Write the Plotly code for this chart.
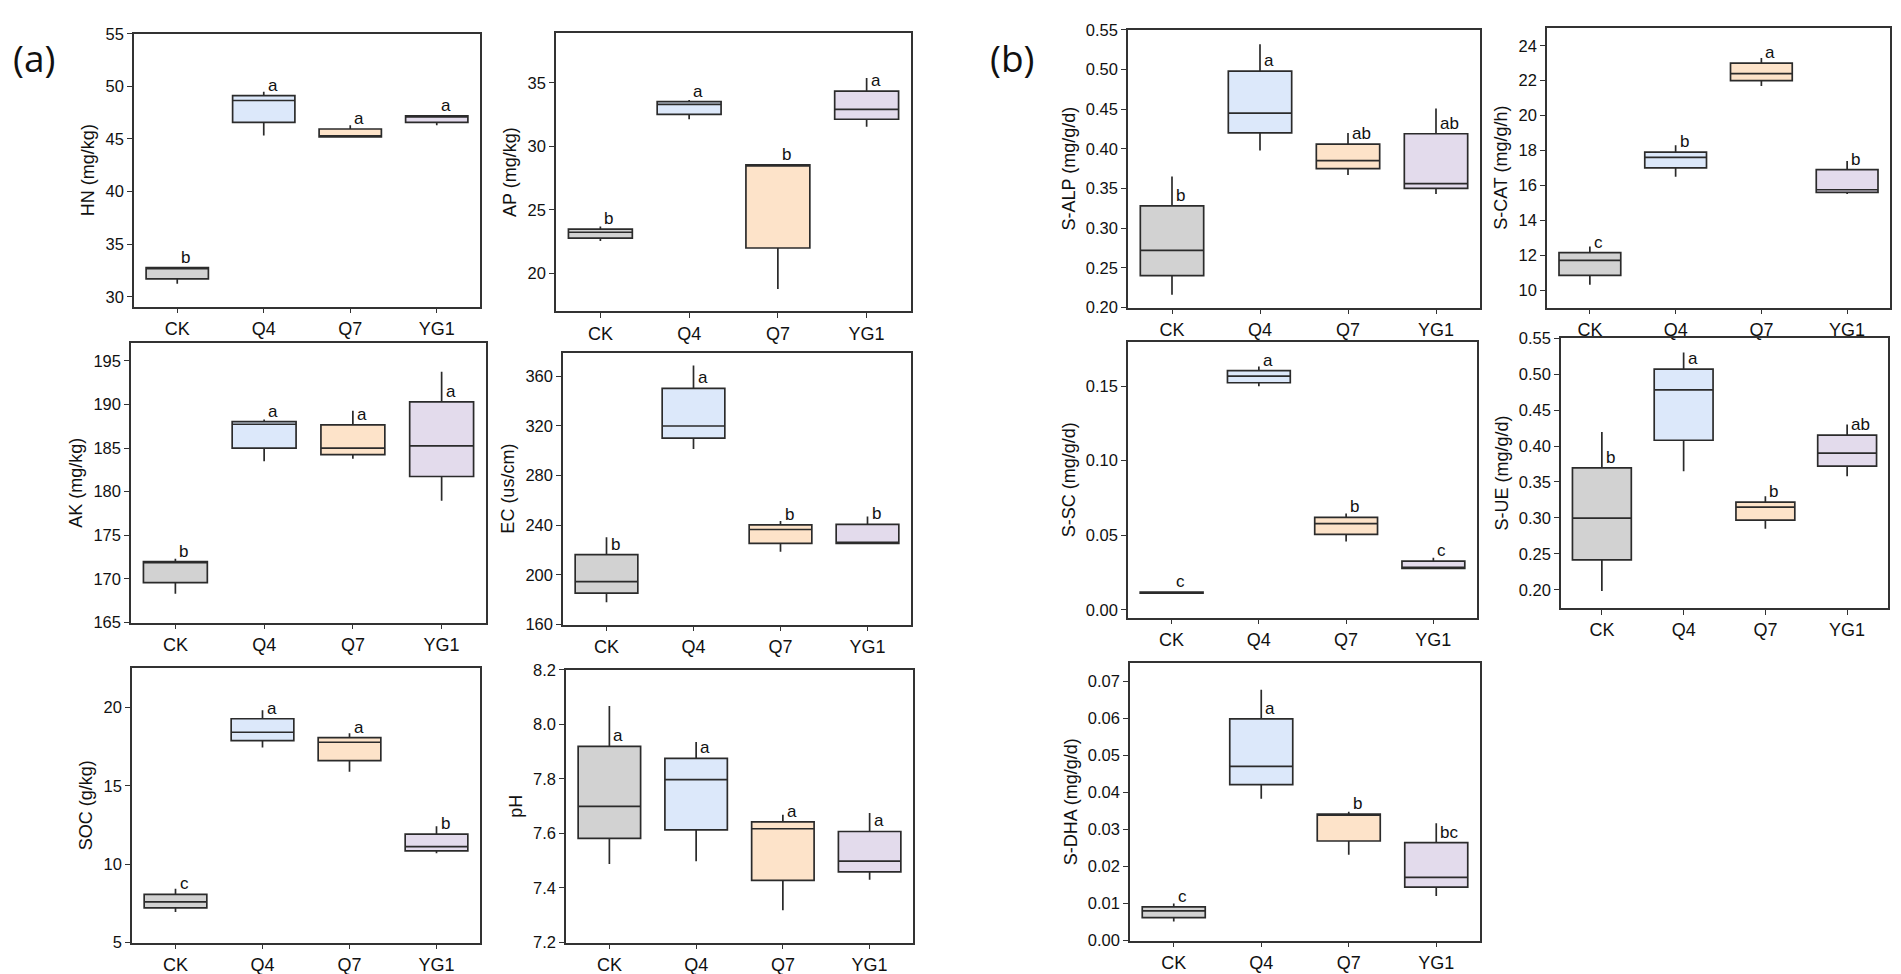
import plotly.graph_objects as go

groups = ["CK", "Q4", "Q7", "YG1"]
fills = ["#d2d2d2", "#dce8fa", "#fde3c9", "#e3dbec"]

# box statistics: lower whisker, q1, median, q3, upper whisker
hn_low = [31.24, 45.33, 45.20, 46.30]
hn_q1 = [31.71, 46.58, 45.20, 46.58]
hn_med = [32.77, 48.66, 45.20, 47.20]
hn_q3 = [32.77, 49.12, 45.95, 47.20]
hn_high = [32.77, 49.50, 46.30, 47.20]
hn_sig = ["b", "a", "a", "a"]

ap_low = [22.55, 32.14, 18.76, 31.55]
ap_q1 = [22.78, 32.53, 22.00, 32.14]
ap_med = [23.24, 33.32, 28.54, 32.92]
ap_q3 = [23.49, 33.53, 28.54, 34.36]
ap_high = [23.70, 33.66, 28.54, 35.39]
ap_sig = ["b", "a", "b", "a"]

ak_low = [168.3, 183.5, 183.76, 178.97]
ak_q1 = [169.57, 185.0, 184.25, 181.74]
ak_med = [171.97, 187.73, 185.0, 185.26]
ak_q3 = [171.97, 188.03, 187.66, 190.30]
ak_high = [172.3, 188.26, 189.27, 193.76]
ak_sig = ["b", "a", "a", "a"]

ec_low = [177.9, 301.4, 218.5, 225.4]
ec_q1 = [185.3, 310.1, 225.4, 225.4]
ec_med = [194.5, 319.9, 236.5, 225.4]
ec_q3 = [216.2, 350.2, 240.2, 240.7]
ec_high = [230.2, 368.7, 243.3, 247.0]
ec_sig = ["b", "a", "b", "b"]

soc_low = [6.94, 17.45, 15.91, 10.70]
soc_q1 = [7.21, 17.89, 16.62, 10.85]
soc_med = [7.59, 18.43, 17.79, 11.12]
soc_q3 = [8.07, 19.29, 18.08, 11.92]
soc_high = [8.43, 19.83, 18.37, 12.42]
soc_sig = ["c", "a", "a", "b"]

ph_low = [7.488, 7.498, 7.318, 7.430]
ph_q1 = [7.582, 7.613, 7.428, 7.459]
ph_med = [7.699, 7.797, 7.617, 7.498]
ph_q3 = [7.919, 7.875, 7.642, 7.607]
ph_high = [8.067, 7.935, 7.668, 7.675]
ph_sig = ["a", "a", "a", "a"]

alp_low = [0.216, 0.398, 0.367, 0.343]
alp_q1 = [0.240, 0.420, 0.375, 0.350]
alp_med = [0.272, 0.445, 0.385, 0.356]
alp_q3 = [0.328, 0.498, 0.406, 0.419]
alp_high = [0.365, 0.532, 0.420, 0.451]
alp_sig = ["b", "a", "ab", "ab"]

cat_low = [10.31, 16.5, 21.7, 15.5]
cat_q1 = [10.84, 17.0, 22.0, 15.6]
cat_med = [11.70, 17.6, 22.4, 15.75]
cat_q3 = [12.15, 17.9, 23.0, 16.9]
cat_high = [12.5, 18.3, 23.3, 17.4]
cat_sig = ["c", "b", "a", "b"]

sc_low = [0.0112, 0.1498, 0.0458, 0.0278]
sc_q1 = [0.0112, 0.1522, 0.0506, 0.0278]
sc_med = [0.0116, 0.1566, 0.0578, 0.0278]
sc_q3 = [0.0118, 0.1603, 0.0620, 0.0326]
sc_high = [0.0118, 0.1631, 0.0646, 0.0348]
sc_sig = ["c", "a", "b", "c"]

ue_low = [0.1985, 0.365, 0.285, 0.358]
ue_q1 = [0.2416, 0.408, 0.297, 0.372]
ue_med = [0.2997, 0.478, 0.315, 0.390]
ue_q3 = [0.3695, 0.507, 0.322, 0.415]
ue_high = [0.4194, 0.530, 0.330, 0.430]
ue_sig = ["b", "a", "b", "ab"]

dha_low = [0.00505, 0.03828, 0.02313, 0.01196]
dha_q1 = [0.00611, 0.04209, 0.02685, 0.01435]
dha_med = [0.00797, 0.04705, 0.03411, 0.01700]
dha_q3 = [0.00904, 0.05990, 0.03411, 0.02640]
dha_high = [0.00992, 0.06778, 0.03473, 0.03163]
dha_sig = ["c", "a", "b", "bc"]

# panel: title, stats, y range, dtick, tickformat, pixel box (x0, x1, y0, y1)
panels = [
    ("HN (mg/kg)", (hn_low, hn_q1, hn_med, hn_q3, hn_high, hn_sig), [29.07, 55.01], 5, "d", (126, 472, 17, 295)),
    ("AP (mg/kg)", (ap_low, ap_q1, ap_med, ap_q3, ap_high, ap_sig), [17.0, 38.96], 5, "d", (548, 903, 16, 300)),
    ("AK (mg/kg)", (ak_low, ak_q1, ak_med, ak_q3, ak_high, ak_sig), [164.99, 197.06], 5, "d", (123, 478, 332, 617)),
    ("EC (us/cm)", (ec_low, ec_q1, ec_med, ec_q3, ec_high, ec_sig), [159.9, 379.0], 40, "d", (555, 903, 342, 619)),
    ("SOC (g/kg)", (soc_low, soc_q1, soc_med, soc_q3, soc_high, soc_sig), [4.99, 22.55], 5, "d", (124, 472, 663, 943)),
    ("pH", (ph_low, ph_q1, ph_med, ph_q3, ph_high, ph_sig), [7.1995, 8.2005], 0.2, ".1f", (558, 905, 665, 943)),
    ("S-ALP (mg/g/d)", (alp_low, alp_q1, alp_med, alp_q3, alp_high, alp_sig), [0.1998, 0.5502], 0.05, ".2f", (1120, 1472, 13, 296)),
    ("S-CAT (mg/g/h)", (cat_low, cat_q1, cat_med, cat_q3, cat_high, cat_sig), [9.0, 25.03], 2, "d", (1539, 1882, 11, 296)),
    ("S-SC (mg/g/d)", (sc_low, sc_q1, sc_med, sc_q3, sc_high, sc_sig), [-0.0053, 0.1796], 0.05, ".2f", (1120, 1469, 331, 612)),
    ("S-UE (mg/g/d)", (ue_low, ue_q1, ue_med, ue_q3, ue_high, ue_sig), [0.175, 0.5502], 0.05, ".2f", (1553, 1880, 327, 602)),
    ("S-DHA (mg/g/d)", (dha_low, dha_q1, dha_med, dha_q3, dha_high, dha_sig), [-0.0001, 0.07505], 0.01, ".2f", (1122, 1472, 658, 941)),
]

W, H = 1901, 974
font = "Liberation Sans, Arial, sans-serif"
fig = go.Figure()
layout = {}
annotations = []

for i, (title, stats, yr, dt, fmt, box) in enumerate(panels, start=1):
    low, q1, med, q3, high, sig = stats
    xa, ya = f"x{i}", f"y{i}"
    for j, g in enumerate(groups):
        fig.add_trace(go.Box(
            x=[g], lowerfence=[low[j]], q1=[q1[j]], median=[med[j]],
            q3=[q3[j]], upperfence=[high[j]],
            xaxis=xa, yaxis=ya, width=0.72, whiskerwidth=0,
            fillcolor=fills[j], line=dict(color="#2b2b2b", width=1.7),
            boxpoints=False, showlegend=False, hoverinfo="y",
        ))
        annotations.append(dict(
            x=g, y=q3[j], xref=xa, yref=ya, text=sig[j], showarrow=False,
            xanchor="left", yanchor="bottom", xshift=2, yshift=-1,
            font=dict(family=font, size=17, color="#111111"),
        ))
    x0, x1, y0, y1 = box
    axis_common = dict(showline=True, mirror=True, linecolor="#333333", linewidth=1.5,
                       ticks="outside", ticklen=5, tickwidth=1.2, tickcolor="#333333",
                       showgrid=False, zeroline=False)
    layout[f"xaxis{i}"] = dict(
        domain=[x0 / W, x1 / W], anchor=ya, type="category",
        categoryorder="array", categoryarray=groups, range=[-0.5, 3.5],
        tickfont=dict(family=font, size=18, color="#111111"), **axis_common)
    layout[f"yaxis{i}"] = dict(
        domain=[1 - y1 / H, 1 - y0 / H], anchor=xa, range=yr, dtick=dt, tick0=0,
        tickformat=fmt, title=dict(text=title, font=dict(family=font, size=18, color="#111111"), standoff=6),
        tickfont=dict(family=font, size=16.5, color="#111111"), **axis_common)

annotations.append(dict(x=3 / W, y=1 - 41 / H, xref="paper", yref="paper", text="(a)",
                        showarrow=False, xanchor="left", yanchor="middle",
                        font=dict(family="Open Sans, sans-serif", size=37, color="#111111")))
annotations.append(dict(x=980 / W, y=1 - 41 / H, xref="paper", yref="paper", text="(b)",
                        showarrow=False, xanchor="left", yanchor="middle",
                        font=dict(family="Open Sans, sans-serif", size=37, color="#111111")))

fig.update_layout(
    width=W, height=H, margin=dict(l=0, r=0, t=0, b=0),
    paper_bgcolor="white", plot_bgcolor="white", boxmode="overlay",
    annotations=annotations, **layout,
)

fig.write_html("out.html")
